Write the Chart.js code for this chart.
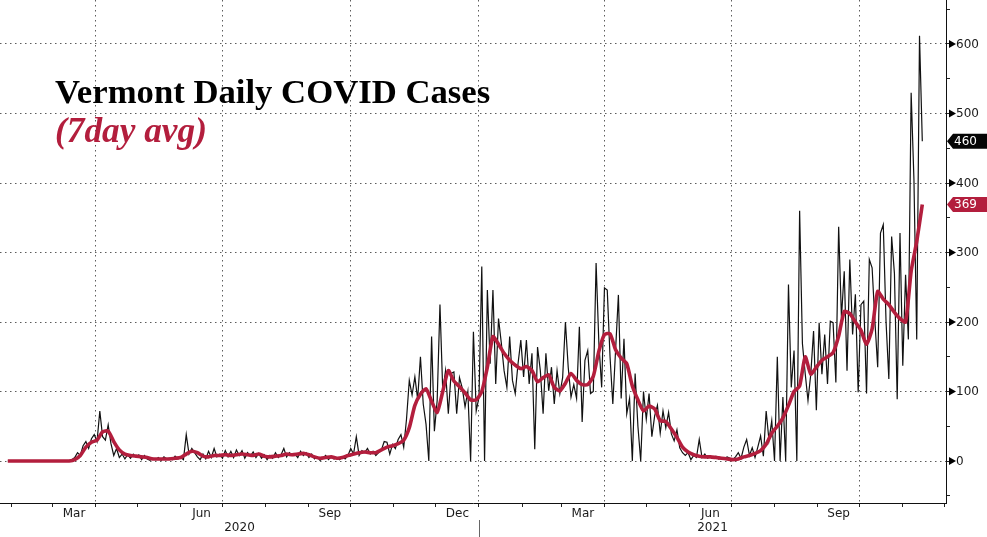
<!DOCTYPE html>
<html>
<head>
<meta charset="utf-8">
<script src="https://cdn.jsdelivr.net/npm/chart.js@4.4.1/dist/chart.umd.min.js"></script>
<style>
  html, body { margin: 0; padding: 0; background: #fff; }
  #wrap { width: 987px; height: 537px; position: relative; }
</style>
</head>
<body>
<div id="wrap"><canvas id="vtChart"></canvas></div>
<script>
// first reading: 29 Jan 2020; daily series read every 2 days, 7day avg every 4 days
const firstDay = [2020, 0, 29];
const dailyStep = 2;
const avgStep = 4;

const dailyCases = [
  0,0,0,0,0,0,0,0,0,0,0,0,0,0,0,0,0,0,0,0,0,0,0,
  2,5,12,8,22,28,18,32,38,28,72,35,30,52,25,8,18,5,10,3,9,4,10,6,9,2,8,3,1,4,2,5,1,6,3,4,2,7,3,5,2,
  38,10,18,12,6,2,10,3,14,5,18,6,10,4,15,6,14,5,16,8,15,4,12,7,13,5,11,4,9,2,8,4,12,5,9,18,6,12,8,10,
  5,14,8,12,5,10,3,6,1,4,8,2,6,3,5,2,6,3,8,18,10,35,8,15,12,18,10,14,8,12,16,
  28,27,10,24,18,31,38,20,60,116,95,121,89,150,82,53,0,179,43,87,225,101,130,68,126,128,68,120,105,78,
  100,0,186,72,92,280,0,246,140,246,111,205,170,
  130,106,179,116,97,140,174,121,174,111,155,17,164,130,68,155,101,135,82,130,97,120,200,135,92,110,90,
  193,56,145,159,97,100,285,169,106,249,246,150,82,160,239,90,176,68,90,0,126,50,0,100,60,97,35,65,80,40,72,48,
  70,39,29,45,19,12,8,12,2,8,5,31,5,10,4,7,5,7,3,5,4,6,4,2,6,12,4,20,31,8,19,5,20,36,7,72,30,58,0,150,
  0,92,0,254,106,159,0,360,169,126,87,
  125,187,73,199,125,182,111,201,199,113,337,206,273,130,290,182,240,99,225,230,97,290,278,201,135,328,
  340,200,118,323,270,89,328,137,268,175,530,405,175,612,460
];

const avgCases = [
  0,0,0,0,0,0,0,0,0,0,0,0,
  2,8,20,27,30,42,43,28,16,10,
  8,7,6,5,3,3,3,3,4,5,
  10,14,12,7,6,8,8,9,8,9,
  10,9,8,10,7,6,7,8,10,9,
  10,11,9,6,4,5,6,4,5,8,
  10,12,13,12,12,16,20,22,25,30,
  48,80,96,104,86,70,100,130,115,107,
  98,88,88,100,135,179,168,155,145,138,
  133,136,130,114,120,124,106,101,112,126,
  116,110,110,122,158,182,183,160,148,140,
  108,88,72,79,75,58,57,46,34,20,
  13,9,7,6,6,5,4,3,2,3,
  6,8,11,15,24,40,50,62,80,100,
  108,150,125,135,145,150,156,180,215,212,
  200,188,168,190,244,233,225,214,205,200,
  273,316,369
];

const monthLabelText = ['Mar', 'Jun', 'Sep', 'Dec', 'Mar', 'Jun', 'Sep'];
const monthLabelYear = [2020, 2020, 2020, 2020, 2021, 2021, 2021];
const monthLabelMonth = [2, 5, 8, 11, 2, 5, 8];
const yearLabels = ['2020', '2021'];
const yTickValues = [-50, 0, 50, 100, 150, 200, 250, 300, 350, 400, 450, 500, 550, 600, 650];
const yLabelValues = [0, 100, 200, 300, 400, 500, 600];
const titleText = 'Vermont Daily COVID Cases';
const subtitleText = '(7day avg)';

const RED = '#b31e3d';

function dayIndex(y, m, d) {
  return (Date.UTC(y, m, d) - Date.UTC(2020, 0, 1)) / 864e5;
}
const startIdx = dayIndex(firstDay[0], firstDay[1], firstDay[2]);

// month starts for the axis tick marks, quarter starts get a grid line
const monthStarts = [];
const quarterStarts = new Set();
for (let y = 2020; y <= 2021; y++) {
  for (let m = 0; m < 12; m++) {
    const v = dayIndex(y, m, 1);
    monthStarts.push(v);
    if (m % 3 === 0) quarterStarts.add(v);
  }
}

const dailyPts = dailyCases.map((v, i) => ({ x: startIdx + i * dailyStep, y: v }));
const avgPts = avgCases.map((v, i) => ({ x: startIdx + i * avgStep, y: v }));

const overlay = {
  id: 'overlay',
  afterDraw(chart) {
    const ctx = chart.ctx;
    const xs = chart.scales.x, ys = chart.scales.y;
    const area = chart.chartArea;
    ctx.save();

    // y labels with little arrow marks
    ctx.font = '12px "DejaVu Sans"';
    ctx.textBaseline = 'middle';
    ctx.textAlign = 'left';
    yLabelValues.forEach(v => {
      const y = ys.getPixelForValue(v);
      ctx.fillStyle = '#000';
      ctx.beginPath();
      ctx.moveTo(area.right + 3, y - 4);
      ctx.lineTo(area.right + 10, y);
      ctx.lineTo(area.right + 3, y + 4);
      ctx.closePath();
      ctx.fill();
      ctx.fillStyle = '#1a1a1a';
      ctx.fillText(String(v), area.right + 10, y + 0.5);
    });

    // last value tags
    const tag = (v, color) => {
      const y = ys.getPixelForValue(v);
      ctx.fillStyle = color;
      ctx.beginPath();
      ctx.moveTo(area.right + 1, y);
      ctx.lineTo(area.right + 7, y - 7.5);
      ctx.lineTo(chart.width, y - 7.5);
      ctx.lineTo(chart.width, y + 7.5);
      ctx.lineTo(area.right + 7, y + 7.5);
      ctx.closePath();
      ctx.fill();
      ctx.fillStyle = '#fff';
      ctx.fillText(String(v), area.right + 8, y + 0.5);
    };
    tag(dailyCases[dailyCases.length - 1], '#050505');
    tag(avgCases[avgCases.length - 1], RED);

    // month + year labels
    ctx.textAlign = 'center';
    ctx.fillStyle = '#1a1a1a';
    monthLabelText.forEach((t, i) => {
      const y = monthLabelYear[i], m = monthLabelMonth[i];
      const mid = (dayIndex(y, m, 1) + dayIndex(y, m + 1, 1)) / 2;
      ctx.fillText(t, xs.getPixelForValue(mid), area.bottom + 11);
    });
    const jan21 = xs.getPixelForValue(dayIndex(2021, 0, 1));
    ctx.fillText(yearLabels[0], (area.left + jan21) / 2, area.bottom + 25);
    ctx.fillText(yearLabels[1], (jan21 + area.right) / 2, area.bottom + 25);
    ctx.strokeStyle = '#666';
    ctx.lineWidth = 1;
    ctx.beginPath();
    ctx.moveTo(Math.round(jan21) + 0.5, area.bottom + 17);
    ctx.lineTo(Math.round(jan21) + 0.5, chart.height);
    ctx.stroke();

    // title
    ctx.textAlign = 'left';
    ctx.textBaseline = 'alphabetic';
    ctx.fillStyle = '#000';
    ctx.font = 'bold 32px "Liberation Serif"';
    let w = ctx.measureText(titleText).width;
    ctx.font = 'bold ' + (32 * 435 / w).toFixed(1) + 'px "Liberation Serif"';
    ctx.fillText(titleText, 55, 103);
    ctx.fillStyle = RED;
    ctx.font = 'italic bold 32px "Liberation Serif"';
    w = ctx.measureText(subtitleText).width;
    ctx.font = 'italic bold ' + (32 * 152 / w).toFixed(1) + 'px "Liberation Serif"';
    ctx.fillText(subtitleText, 55, 142);
    ctx.restore();
  }
};

const gridGrey = '#5c5c5c';

new Chart(document.getElementById('vtChart'), {
  type: 'line',
  data: {
    datasets: [
      {
        label: '7day avg',
        data: avgPts,
        borderColor: RED,
        borderWidth: 3.6,
        pointRadius: 0,
        tension: 0.2,
        fill: false
      },
      {
        label: 'Daily cases',
        data: dailyPts,
        borderColor: '#111',
        borderWidth: 1.2,
        pointRadius: 0,
        tension: 0,
        fill: false
      }
    ]
  },
  options: {
    responsive: true,
    maintainAspectRatio: false,
    animation: false,
    layout: { padding: 0, autoPadding: false },
    plugins: { legend: { display: false }, tooltip: { enabled: false } },
    scales: {
      x: {
        type: 'linear',
        min: 22.4,
        max: 701,
        afterBuildTicks: s => { s.ticks = monthStarts.map(v => ({ value: v })); },
        afterFit: s => { s.height = 34; },
        ticks: { display: false },
        grid: {
          color: c => (c.tick && quarterStarts.has(c.tick.value)) ? gridGrey : 'rgba(0,0,0,0)',
          lineWidth: 1,
          tickColor: '#222',
          tickLength: 4
        },
        border: { display: true, color: '#111', width: 1, dash: [1.5, 3.5] }
      },
      y: {
        position: 'right',
        min: -60.4,
        max: 663.3,
        afterBuildTicks: s => { s.ticks = yTickValues.map(v => ({ value: v })); },
        afterFit: s => { s.width = 41; },
        ticks: { display: false },
        grid: {
          color: c => (c.tick && yLabelValues.includes(c.tick.value)) ? gridGrey : 'rgba(0,0,0,0)',
          lineWidth: 1,
          tickColor: '#222',
          tickLength: 4
        },
        border: { display: true, color: '#111', width: 1, dash: [1.5, 3.5] }
      }
    }
  },
  plugins: [overlay]
});
</script>
</body>
</html>
